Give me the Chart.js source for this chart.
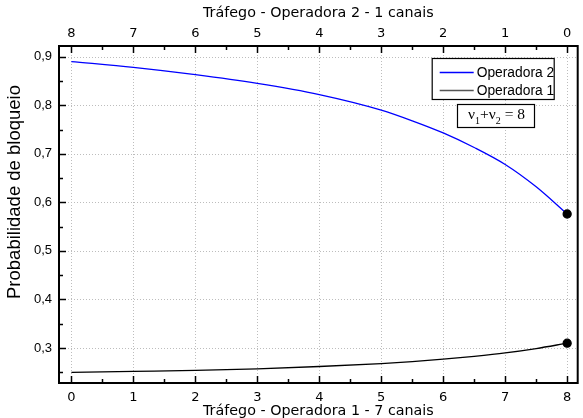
<!DOCTYPE html>
<html><head><meta charset="utf-8">
<script src="https://cdn.jsdelivr.net/npm/chart.js@4.4.0/dist/chart.umd.min.js"></script>
<style>html,body{margin:0;padding:0;background:#fff;} #wrap{width:583px;height:418px;}</style>
</head><body><div id="wrap"><canvas id="c" width="583" height="418"></canvas></div>
<script>
const trafficX   = [0, 1, 2, 3, 4, 5, 5.5, 6, 6.5, 7, 7.5, 8];
const operadora2 = [0.890, 0.878, 0.863, 0.845, 0.822, 0.790, 0.768, 0.743, 0.713, 0.678, 0.632, 0.576];
const operadora1 = [0.250, 0.252, 0.254, 0.257, 0.262, 0.268, 0.272, 0.277, 0.283, 0.290, 0.299, 0.310];
const seriesNames = ['Operadora 2', 'Operadora 1'];
const xTicks = [0, 1, 2, 3, 4, 5, 6, 7, 8];
const bottomTickLabels = ['0', '1', '2', '3', '4', '5', '6', '7', '8'];
const topTickLabels = ['8', '7', '6', '5', '4', '3', '2', '1', '0'];
const xMinorTicks = [0.5, 1.5, 2.5, 3.5, 4.5, 5.5, 6.5, 7.5];
const yTicks = [0.3, 0.4, 0.5, 0.6, 0.7, 0.8, 0.9];
const yTickLabels = ['0,3', '0,4', '0,5', '0,6', '0,7', '0,8', '0,9'];
const yMinorTicks = [0.25, 0.35, 0.45, 0.55, 0.65, 0.75, 0.85];
const bottomTitle = 'Tráfego - Operadora 1 - 7 canais';
const topTitle = 'Tráfego - Operadora 2 - 1 canais';
const yTitle = 'Probabilidade de bloqueio';

function pts(ys) { return trafficX.map((x, i) => ({x: x, y: ys[i]})); }
const lastIdx = trafficX.length - 1;

const noGrid = {display: false, drawTicks: false, tickLength: 0};

const framePlugin = {
  id: 'frame',
  beforeDatasetsDraw(chart) {
    const {ctx, chartArea: a, scales} = chart;
    ctx.save();
    ctx.strokeStyle = '#bdbdbd';
    ctx.lineWidth = 1;
    ctx.setLineDash([1, 2]);
    xTicks.forEach(v => {
      const px = Math.round(scales.x.getPixelForValue(v)) + 0.5;
      ctx.beginPath(); ctx.moveTo(px, a.top); ctx.lineTo(px, a.bottom); ctx.stroke();
    });
    yTicks.forEach(v => {
      const py = Math.round(scales.y.getPixelForValue(v)) + 0.5;
      ctx.beginPath(); ctx.moveTo(a.left, py); ctx.lineTo(a.right, py); ctx.stroke();
    });
    ctx.restore();
  },
  afterDatasetsDraw(chart) {
    const {ctx, chartArea: a, scales} = chart;
    ctx.save();
    ctx.strokeStyle = '#000';
    ctx.lineWidth = 1.5;
    ctx.setLineDash([]);
    const tick = (x1, y1, x2, y2) => { ctx.beginPath(); ctx.moveTo(x1, y1); ctx.lineTo(x2, y2); ctx.stroke(); };
    xTicks.forEach(v => {
      const px = Math.round(scales.x.getPixelForValue(v)) + 0.5;
      tick(px, a.bottom, px, a.bottom - 7);
      tick(px, a.top, px, a.top + 7);
    });
    xMinorTicks.forEach(v => {
      const px = Math.round(scales.x.getPixelForValue(v)) + 0.5;
      tick(px, a.bottom, px, a.bottom - 4);
      tick(px, a.top, px, a.top + 4);
    });
    yTicks.forEach(v => {
      const py = Math.round(scales.y.getPixelForValue(v)) + 0.5;
      tick(a.left, py, a.left + 7, py);
    });
    yMinorTicks.forEach(v => {
      const py = Math.round(scales.y.getPixelForValue(v)) + 0.5;
      tick(a.left, py, a.left + 4, py);
    });
    ctx.lineWidth = 2;
    ctx.strokeRect(a.left, a.top, a.right - a.left, a.bottom - a.top);
    ctx.restore();
  },
  afterDraw(chart) {
    const {ctx, chartArea: a} = chart;
    ctx.save();
    // y axis title (placed as in the reference, above centre)
    ctx.translate(15, a.top + 146);
    ctx.rotate(-Math.PI / 2);
    ctx.font = '18.5px "Liberation Sans", Arial, sans-serif';
    ctx.fillStyle = '#000';
    ctx.textAlign = 'center';
    ctx.textBaseline = 'middle';
    ctx.fillText(yTitle, 0, 0);
    ctx.restore();

    ctx.save();
    // legend box
    const lx = a.right - 146, ly = a.top + 12, lw = 122, lh = 41;
    ctx.fillStyle = '#fff';
    ctx.fillRect(lx, ly, lw, lh);
    ctx.strokeStyle = '#000'; ctx.lineWidth = 1.2;
    ctx.strokeRect(lx + 0.5, ly + 0.5, lw, lh);
    ctx.font = '13.8px "Liberation Sans", Arial, sans-serif';
    ctx.textBaseline = 'middle';
    ctx.textAlign = 'left';
    chart.data.datasets.forEach((ds, i) => {
      const yy = ly + 14.5 + i * 18;
      ctx.strokeStyle = i === 1 ? '#555' : ds.borderColor;
      ctx.lineWidth = 1.3;
      ctx.beginPath(); ctx.moveTo(lx + 8, yy); ctx.lineTo(lx + 42, yy); ctx.stroke();
      ctx.fillStyle = '#000';
      ctx.fillText(ds.label, lx + 45, yy + 0.5);
    });
    // annotation box
    const bx = a.left + 398, by = a.top + 58, bw = 77, bh = 23;
    ctx.fillStyle = '#fff';
    ctx.fillRect(bx, by, bw, bh);
    ctx.strokeStyle = '#000'; ctx.lineWidth = 1.2;
    ctx.strokeRect(bx + 0.5, by + 0.5, bw, bh);
    ctx.fillStyle = '#000';
    ctx.textBaseline = 'alphabetic';
    ctx.textAlign = 'left';
    const base = by + 15;
    const big = '15.5px "Liberation Serif", "Times New Roman", serif';
    const small = '10px "Liberation Serif", "Times New Roman", serif';
    let cx = bx + 11;
    const put = (t, f, dy) => { ctx.font = f; ctx.fillText(t, cx, base + dy); cx += ctx.measureText(t).width; };
    put('ν', big, 0); put('1', small, 5); put('+', big, 0); put('ν', big, 0); put('2', small, 5); put(' = 8', big, 0);
    ctx.restore();
  }
};

new Chart(document.getElementById('c'), {
  type: 'line',
  data: {
    datasets: [
      {
        label: seriesNames[0],
        data: pts(operadora2),
        borderColor: '#0000ff',
        borderWidth: 1.3,
        cubicInterpolationMode: 'monotone',
        pointRadius: c => c.dataIndex === lastIdx ? 4 : 0,
        pointBackgroundColor: '#000',
        pointBorderColor: '#000',
        fill: false
      },
      {
        label: seriesNames[1],
        data: pts(operadora1),
        borderColor: '#000',
        borderWidth: 1.3,
        cubicInterpolationMode: 'monotone',
        pointRadius: c => c.dataIndex === lastIdx ? 4 : 0,
        pointBackgroundColor: '#000',
        pointBorderColor: '#000',
        fill: false
      }
    ]
  },
  options: {
    responsive: false,
    animation: false,
    layout: {padding: {left: 0, right: 2, top: 0, bottom: 0}},
    plugins: {legend: {display: false}, tooltip: {enabled: false}},
    scales: {
      x: {
        type: 'linear', position: 'bottom', min: -0.2, max: 8.17,
        afterBuildTicks: s => { s.ticks = xTicks.map(v => ({value: v})); },
        afterFit: s => { s.height = 35; },
        grid: noGrid, border: {display: false},
        ticks: {
          padding: 7, maxRotation: 0, autoSkip: false, color: '#000',
          font: {family: '"DejaVu Sans", Verdana, sans-serif', size: 13},
          callback: (v, i) => bottomTickLabels[i]
        },
        title: {display: true, text: bottomTitle, color: '#000', padding: {top: 0, bottom: -1.5},
          font: {family: '"DejaVu Sans", Verdana, sans-serif', size: 14.3}}
      },
      x2: {
        type: 'linear', position: 'top', min: -0.2, max: 8.17,
        afterBuildTicks: s => { s.ticks = xTicks.map(v => ({value: v})); },
        afterFit: s => { s.height = 46; },
        grid: noGrid, border: {display: false},
        ticks: {
          padding: 5, maxRotation: 0, autoSkip: false, color: '#000',
          font: {family: '"DejaVu Sans", Verdana, sans-serif', size: 13},
          callback: (v, i) => topTickLabels[i]
        },
        title: {display: true, text: topTitle, color: '#000', padding: {top: 5, bottom: 0},
          font: {family: '"DejaVu Sans", Verdana, sans-serif', size: 14.3}}
      },
      y: {
        type: 'linear', position: 'left', min: 0.228, max: 0.922,
        afterBuildTicks: s => { s.ticks = yTicks.map(v => ({value: v})); },
        afterFit: s => { s.width = 59; },
        grid: noGrid, border: {display: false},
        ticks: {
          padding: 7, color: '#000',
          font: {family: '"Liberation Sans", Arial, sans-serif', size: 13},
          callback: (v, i) => yTickLabels[i]
        },
        title: {display: false}
      }
    }
  },
  plugins: [framePlugin]
});
</script></body></html>
